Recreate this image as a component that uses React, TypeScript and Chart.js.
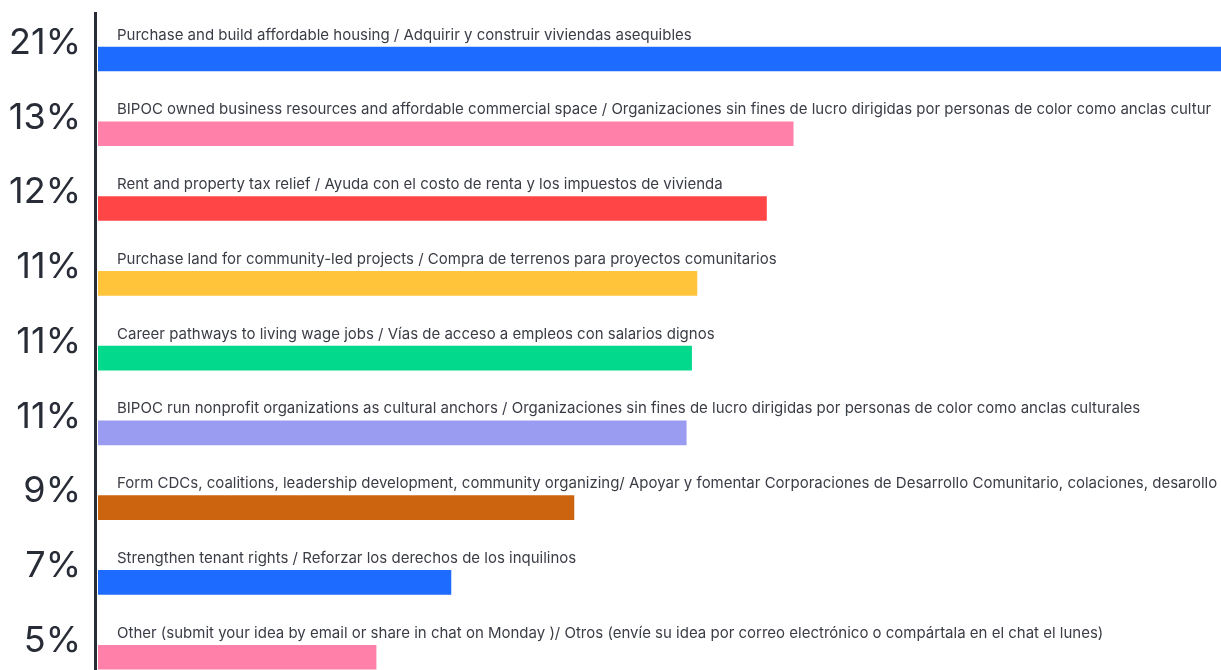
import React, { useEffect, useRef } from "react";
import { Chart, registerables } from "chart.js";

Chart.register(...registerables);

const categories: string[] = [
  "Purchase and build affordable housing / Adquirir y construir viviendas asequibles",
  "BIPOC owned business resources and affordable commercial space / Organizaciones sin fines de lucro dirigidas por personas de color como anclas cultur",
  "Rent and property tax relief / Ayuda con el costo de renta y los impuestos de vivienda",
  "Purchase land for community-led projects / Compra de terrenos para proyectos comunitarios",
  "Career pathways to living wage jobs / Vías de acceso a empleos con salarios dignos",
  "BIPOC run nonprofit organizations as cultural anchors / Organizaciones sin fines de lucro dirigidas por personas de color como anclas culturales",
  "Form CDCs, coalitions, leadership development, community organizing/ Apoyar y fomentar Corporaciones de Desarrollo Comunitario, colaciones, desarollo",
  "Strengthen tenant rights / Reforzar los derechos de los inquilinos",
  "Other (submit your idea by email or share in chat on Monday )/ Otros (envíe su idea por correo electrónico o compártala en el chat el lunes)",
];

const values: number[] = [21, 13, 12.5, 11.2, 11.1, 11, 8.9, 6.6, 5.2];

const percentLabels: string[] = ["21%", "13%", "12%", "11%", "11%", "11%", "9%", "7%", "5%"];

const barColors: string[] = [
  "#1d6bff",
  "#ff80a8",
  "#ff4545",
  "#ffc43a",
  "#02d98c",
  "#9a9cf2",
  "#cc640f",
  "#1d6bff",
  "#ff80a8",
];

const labelPlugin = {
  id: "rowLabels",
  afterDatasetsDraw(chart: any) {
    const ctx = chart.ctx;
    const yScale = chart.scales.y;
    const area = chart.chartArea;
    ctx.save();
    // vertical axis line
    ctx.fillStyle = "#272c37";
    ctx.fillRect(area.left - 4, 12, 3, chart.height - 12);
    categories.forEach((label, i) => {
      const y = yScale.getPixelForValue(i);
      ctx.fillStyle = "#3a3d45";
      ctx.font = "15px Inter, 'Noto Sans', sans-serif";
      ctx.textAlign = "left";
      ctx.textBaseline = "middle";
      ctx.fillText(label, area.left + 19, y - 24);
      ctx.fillStyle = "#272c37";
      ctx.font = "36px Inter, 'Noto Sans', sans-serif";
      ctx.textAlign = "right";
      ctx.fillText(percentLabels[i], 81, y - 16);
    });
    ctx.restore();
  },
};

export default function App() {
  const canvasRef = useRef<HTMLCanvasElement | null>(null);

  useEffect(() => {
    document.body.style.margin = "0";
    const canvas = canvasRef.current;
    if (!canvas) return;
    const chart = new Chart(canvas, {
      type: "bar",
      data: {
        labels: categories,
        datasets: [
          {
            data: values,
            backgroundColor: barColors,
            borderWidth: 0,
            barThickness: 24,
          },
        ],
      },
      options: {
        indexAxis: "y",
        animation: false,
        responsive: true,
        maintainAspectRatio: false,
        layout: { padding: { left: 98, right: 0, top: 21.6, bottom: 5.4 } },
        plugins: { legend: { display: false }, tooltip: { enabled: false } },
        scales: {
          x: { display: false, min: 0, max: 21 },
          y: { display: false },
        },
      },
      plugins: [labelPlugin],
    });
    return () => chart.destroy();
  }, []);

  return (
    <div style={{ position: "fixed", left: 0, top: 0, width: 1221, height: 670, overflow: "hidden", background: "#fff" }}>
      <div style={{ position: "relative", width: 1221, height: 700 }}>
        <canvas ref={canvasRef} />
      </div>
    </div>
  );
}
